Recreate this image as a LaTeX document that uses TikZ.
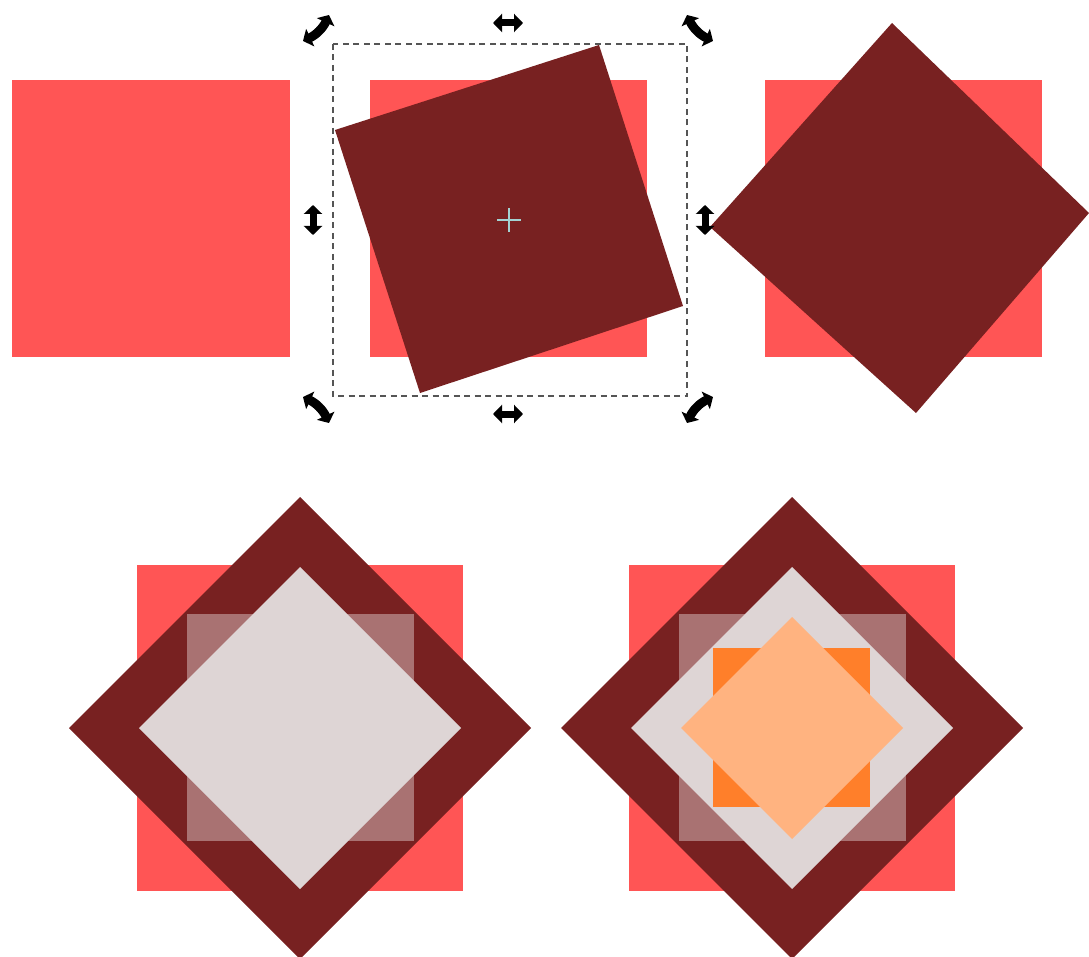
\documentclass[tikz,border=0pt]{standalone}
\usetikzlibrary{arrows.meta}
\definecolor{salmon}{HTML}{FF5555}
\definecolor{maroon}{HTML}{782121}
\definecolor{mist}{HTML}{DED5D5}
\definecolor{tangerine}{HTML}{FF7F2A}
\definecolor{peach}{HTML}{FFB380}
\definecolor{pivotcol}{HTML}{A3D3D3}
\definecolor{frame}{HTML}{555555}

\begin{document}
\begin{tikzpicture}[
  x=1pt, y=-1pt,
  base/.style={fill=salmon},
  turned/.style={fill=maroon},
  veil/.style={fill=white, fill opacity=0.37},
  inner/.style={fill=mist},
  grip/.style={line width=7, {Triangle[length=9,width=18]}-{Triangle[length=9,width=18]}},
  spin/.style={line width=9, {Triangle[length=8,width=19]}-{Triangle[length=8,width=19]}},
  selbox/.style={draw=frame, line width=1.5, dash pattern=on 6pt off 4.5pt}
]
\useasboundingbox (0,0) rectangle (1089,957);

% top row: plain, rotated while selected, rotated 45
\fill[base] (12,80) rectangle (290,357);
\fill[base] (370,80) rectangle (647,357);
\fill[base] (765,80) rectangle (1042,357);
\fill[turned] (335,130) -- (599,45) -- (683,306) -- (420,393) -- cycle;
\fill[turned] (892,23) -- (1089,213) -- (916,413) -- (710,227) -- cycle;

% selection box with its handles
\draw[selbox] (333,44) rectangle (687,396);
\coordinate (pivot) at (509,220);
\draw[pivotcol, line width=2] ([xshift=-12]pivot) -- ([xshift=12]pivot)
  ([yshift=-12]pivot) -- ([yshift=12]pivot);
\draw[grip] (493,23) -- (523,23);
\draw[grip] (493,414) -- (523,414);
\draw[grip] (313,205) -- (313,235);
\draw[grip] (705,205) -- (705,235);
\draw[spin] (329,15) to[bend left=20] (303,41);
\draw[spin] (713,41) to[bend left=20] (687,15);
\draw[spin] (303,397) to[bend left=20] (329,423);
\draw[spin] (687,423) to[bend left=20] (713,397);

% bottom row: nested diamonds and squares
\foreach \cx [count=\i] in {300,792} {
  \coordinate (c\i) at (\cx,728);
  \fill[base] (c\i) ++(-163,-163) rectangle ++(326,326);
  \fill[turned] (c\i) ++(0,-231) -- ++(231,231) -- ++(-231,231) -- ++(-231,-231) -- cycle;
  \fill[veil] (c\i) ++(-113,-114) rectangle ++(227,227);
  \fill[inner] (c\i) ++(0,-161) -- ++(161,161) -- ++(-161,161) -- ++(-161,-161) -- cycle;
}
\fill[tangerine] (713,648) rectangle (870,807);
\fill[peach] (c2) ++(0,-111) -- ++(111,111) -- ++(-111,111) -- ++(-111,-111) -- cycle;
\end{tikzpicture}
\end{document}
